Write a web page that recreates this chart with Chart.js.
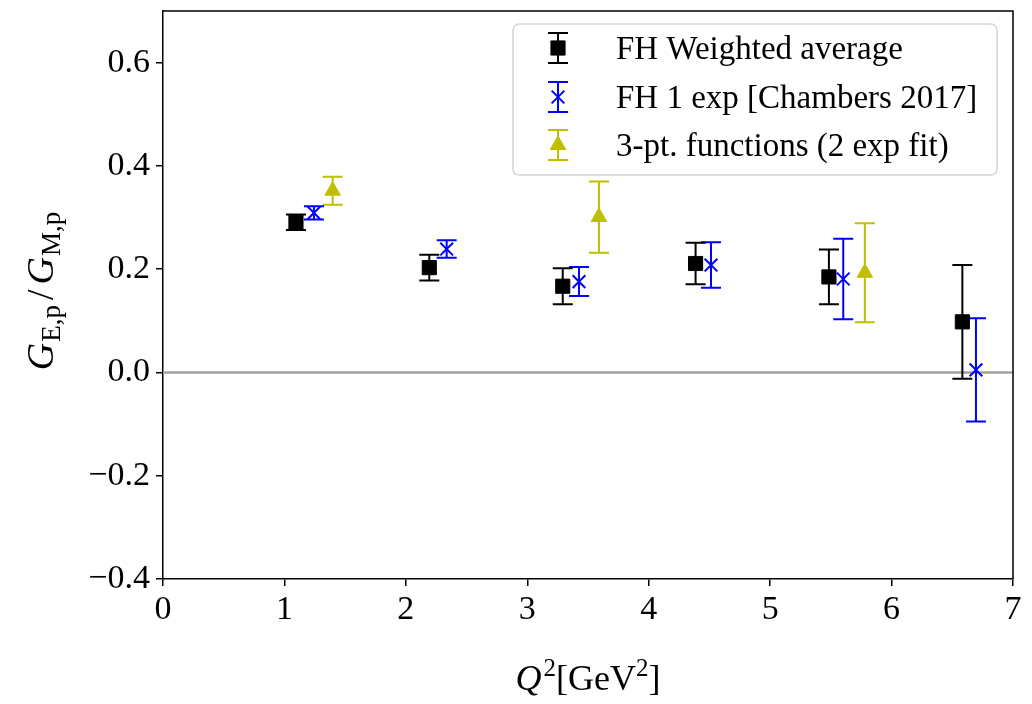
<!DOCTYPE html>
<html><head><meta charset="utf-8">
<script src="https://cdn.jsdelivr.net/npm/chart.js@4.4.0/dist/chart.umd.min.js"></script>
<style>html,body{margin:0;padding:0;background:#fff;}</style>
</head><body>
<canvas id="c" width="1032" height="704"></canvas>
<script>
const FONT = '"Liberation Serif", "DejaVu Serif", serif';
const seriesNames = ['FH Weighted average', 'FH 1 exp [Chambers 2017]', '3-pt. functions (2 exp fit)'];
const seriesColors = ['#000000', '#0000ff', '#bfbf00'];
const fhAvgQ2  = [1.095, 2.193, 3.292, 4.386, 5.484, 6.583];
const fhAvgVal = [0.291, 0.203, 0.167, 0.211, 0.185, 0.098];
const fhAvgErr = [0.015, 0.025, 0.035, 0.040, 0.053, 0.110];
const fh1Q2  = [1.243, 2.336, 3.426, 4.513, 5.602, 6.695];
const fh1Val = [0.309, 0.239, 0.176, 0.208, 0.181, 0.005];
const fh1Err = [0.013, 0.017, 0.028, 0.044, 0.078, 0.100];
const tpQ2  = [1.397, 3.590, 5.780];
const tpVal = [0.352, 0.301, 0.193];
const tpErr = [0.027, 0.069, 0.096];
const xTicks = [0, 1, 2, 3, 4, 5, 6, 7];
const yTicks = [-0.4, -0.2, 0.0, 0.2, 0.4, 0.6];

function pts(xs, ys) { return xs.map((x, i) => ({x: x, y: ys[i]})); }

const markerStyles = [
  {pointStyle: 'rect', radius: 10, borderWidth: 1},
  {pointStyle: 'crossRot', radius: 9, borderWidth: 2},
  {pointStyle: 'triangle', radius: 9, borderWidth: 1}
];

function mkDataset(i, xs, ys, errs) {
  return {
    type: 'scatter', label: seriesNames[i], data: pts(xs, ys), errs: errs,
    showLine: false, order: 1,
    pointStyle: markerStyles[i].pointStyle, pointRadius: markerStyles[i].radius,
    pointBorderWidth: markerStyles[i].borderWidth,
    backgroundColor: seriesColors[i], borderColor: seriesColors[i],
    pointBackgroundColor: seriesColors[i], pointBorderColor: seriesColors[i]
  };
}

const CAP = 10;
function drawErr(ctx, x, yTop, yBot, color) {
  ctx.save();
  ctx.strokeStyle = color; ctx.lineWidth = 2; ctx.lineCap = 'butt';
  ctx.beginPath();
  ctx.moveTo(x, yTop); ctx.lineTo(x, yBot);
  ctx.moveTo(x - CAP, yTop); ctx.lineTo(x + CAP, yTop);
  ctx.moveTo(x - CAP, yBot); ctx.lineTo(x + CAP, yBot);
  ctx.stroke();
  ctx.restore();
}

const errorBarPlugin = {
  id: 'errbars',
  beforeDatasetDraw(chart, args) {
    const ds = chart.data.datasets[args.index];
    if (!ds.errs) return;
    const xs = chart.scales.x, ys = chart.scales.y, ctx = chart.ctx;
    ds.data.forEach((p, i) => {
      const e = ds.errs[i];
      drawErr(ctx, xs.getPixelForValue(p.x), ys.getPixelForValue(p.y + e), ys.getPixelForValue(p.y - e), ds.borderColor);
    });
  }
};

function drawMarker(ctx, i, x, y) {
  ctx.save();
  ctx.fillStyle = seriesColors[i]; ctx.strokeStyle = seriesColors[i];
  ctx.lineWidth = markerStyles[i].borderWidth;
  Chart.helpers.drawPoint(ctx, {pointStyle: markerStyles[i].pointStyle, radius: markerStyles[i].radius, rotation: 0, borderWidth: markerStyles[i].borderWidth}, x, y);
  ctx.restore();
}

const decorPlugin = {
  id: 'decor',
  afterDraw(chart) {
    const ctx = chart.ctx, a = chart.chartArea;
    // top and right spines
    ctx.save();
    ctx.strokeStyle = '#000'; ctx.lineWidth = 1.5;
    ctx.beginPath();
    ctx.moveTo(a.left, a.top); ctx.lineTo(a.right, a.top); ctx.lineTo(a.right, a.bottom);
    ctx.stroke();
    ctx.restore();

    // legend
    const lx = 513, ly = 24, lw = 484, lh = 151;
    ctx.save();
    ctx.fillStyle = 'rgba(255,255,255,0.8)';
    ctx.strokeStyle = '#d4d4d4'; ctx.lineWidth = 1.5;
    ctx.beginPath();
    ctx.roundRect(lx, ly, lw, lh, 6);
    ctx.fill(); ctx.stroke();
    ctx.restore();
    const rows = [48, 97, 145];
    seriesNames.forEach((name, i) => {
      const cy = rows[i];
      drawErr(ctx, 558, cy - 15, cy + 15, seriesColors[i]);
      drawMarker(ctx, i, 558, cy);
      ctx.save();
      ctx.fillStyle = '#000'; ctx.font = '33px ' + FONT;
      ctx.textBaseline = 'alphabetic'; ctx.textAlign = 'left';
      ctx.fillText(name, 616, cy + 11);
      ctx.restore();
    });

    // x axis label: Q^2[GeV^2]
    ctx.save();
    ctx.fillStyle = '#000'; ctx.textBaseline = 'alphabetic';
    const big = '36px ' + FONT, bigI = 'italic 36px ' + FONT, sup = '25px ' + FONT;
    const partsX = [[bigI, 'Q', 0, 2], [sup, '2', -14, 0], [big, '[GeV', 0, 0], [sup, '2', -14, 0], [big, ']', 0, 0]];
    let tw = 0;
    partsX.forEach(p => { ctx.font = p[0]; tw += ctx.measureText(p[1]).width + p[3]; });
    let cx = (a.left + a.right) / 2 - tw / 2;
    const by = 690;
    partsX.forEach(p => { ctx.font = p[0]; ctx.fillText(p[1], cx, by + p[2]); cx += ctx.measureText(p[1]).width + p[3]; });
    ctx.restore();

    // y axis label: G_{E,p}/G_{M,p}
    ctx.save();
    ctx.translate(53, 291);
    ctx.rotate(-Math.PI / 2);
    ctx.fillStyle = '#000'; ctx.textBaseline = 'alphabetic';
    const gI = 'italic 38px ' + FONT, slash = '38px ' + FONT, sub = '27px ' + FONT;
    // [font, text, dy, extra space before, extra space after]
    const partsY = [[gI, 'G', 0, 0, 1], [sub, 'E,p', 7, 0, 0], [slash, '/', 0, 5, 5], [gI, 'G', 0, 0, 1], [sub, 'M,p', 7, 0, 0]];
    tw = 0;
    partsY.forEach(p => { ctx.font = p[0]; tw += p[3] + ctx.measureText(p[1]).width + p[4]; });
    cx = -tw / 2;
    partsY.forEach(p => { ctx.font = p[0]; cx += p[3]; ctx.fillText(p[1], cx, p[2]); cx += ctx.measureText(p[1]).width + p[4]; });
    ctx.restore();
  }
};

const fmtY = v => (v < 0 ? '\u2212' : '') + Math.abs(v).toFixed(1);

new Chart(document.getElementById('c'), {
  data: {
    datasets: [
      mkDataset(0, fhAvgQ2, fhAvgVal, fhAvgErr),
      mkDataset(1, fh1Q2, fh1Val, fh1Err),
      mkDataset(2, tpQ2, tpVal, tpErr),
      {type: 'line', label: 'zero', data: [{x: xTicks[0], y: 0}, {x: xTicks[xTicks.length - 1], y: 0}],
       borderColor: '#a0a0a0', borderWidth: 2.4, pointRadius: 0, order: 10}
    ]
  },
  options: {
    responsive: false, animation: false, devicePixelRatio: 1,
    layout: {padding: {left: 0, right: 19, top: 8, bottom: 0}},
    plugins: {legend: {display: false}, tooltip: {enabled: false}},
    scales: {
      x: {
        type: 'linear', min: 0, max: 7,
        afterBuildTicks: s => { s.ticks = xTicks.map(v => ({value: v})); },
        afterFit: s => { s.height = 125; s.paddingLeft = 0; s.paddingRight = 0; },
        ticks: {color: '#000', font: {family: FONT, size: 34}, padding: 4, callback: v => String(v), maxRotation: 0},
        grid: {drawOnChartArea: false, drawTicks: true, tickLength: 7, color: '#000', lineWidth: 1.5},
        border: {display: true, color: '#000', width: 1.5}
      },
      y: {
        type: 'linear', min: -0.4, max: 0.7,
        afterBuildTicks: s => { s.ticks = yTicks.map(v => ({value: v})); },
        afterFit: s => { s.width = 163; s.paddingTop = 0; s.paddingBottom = 0; },
        ticks: {color: '#000', font: {family: FONT, size: 34}, padding: 6, callback: v => fmtY(v)},
        grid: {drawOnChartArea: false, drawTicks: true, tickLength: 7, color: '#000', lineWidth: 1.5},
        border: {display: true, color: '#000', width: 1.5}
      }
    }
  },
  plugins: [errorBarPlugin, decorPlugin]
});
</script>
</body></html>
